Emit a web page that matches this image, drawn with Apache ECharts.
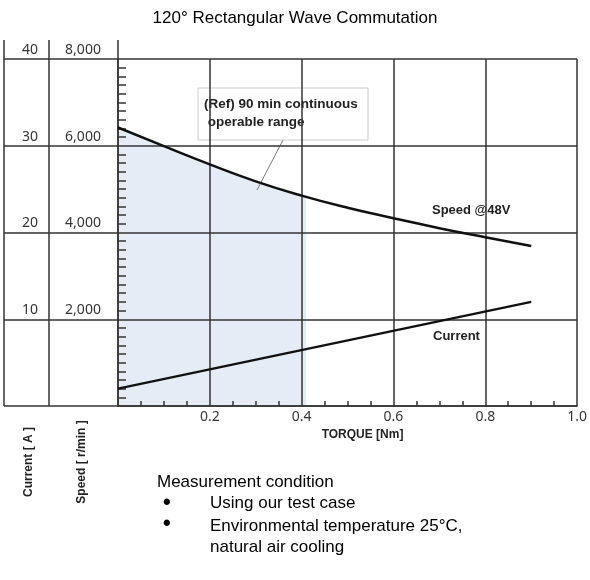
<!DOCTYPE html>
<html>
<head>
<meta charset="utf-8">
<script src="https://cdn.jsdelivr.net/npm/echarts@6/dist/echarts.min.js"></script>
<style>
  html, body { margin: 0; padding: 0; background: #fff; }
  #main { width: 590px; height: 580px; }
</style>
</head>
<body>
<div id="main"></div>
<script>
// values
const torque = [0, 0.1, 0.2, 0.3, 0.4, 0.5, 0.6, 0.7, 0.8, 0.9]
const speed = [6420, 5990, 5570, 5180, 4850, 4570, 4330, 4100, 3890, 3690]
const currentTorque = [0, 0.9]
const current = [2.0, 12.0]
const shadeTorque = [0, 0.1, 0.2, 0.3, 0.4, 0.41]
const shadeSpeed = [6420, 5990, 5570, 5180, 4850, 4820]
const xTicks = [0, 0.2, 0.4, 0.6, 0.8, 1.0]
const speedTicks = [0, 2000, 4000, 6000, 8000]
const currentTicks = [0, 10, 20, 30, 40]

const G = { left: 118, right: 7, top: 59, bottom: 174 }
const W = 590, H = 580
const ink = '#333'
const bold = "'Liberation Sans', Arial, sans-serif"
const plain = "'Liberation Sans', Arial, sans-serif"
const tickFont = "'Noto Sans', 'Open Sans', sans-serif"

const chart = echarts.init(document.getElementById('main'), null, { renderer: 'canvas' })

const pair = (xs, ys) => xs.map((x, i) => [x, ys[i]])

const option = {
  animation: false,
  title: {
    text: '120° Rectangular Wave Commutation',
    left: 'center',
    top: 5,
    textStyle: { fontFamily: plain, fontWeight: 'normal', fontSize: 17, color: '#000' }
  },
  grid: [
    { left: G.left, right: G.right, top: G.top, bottom: G.bottom },
    { left: 4, width: G.left - 4, top: G.top, bottom: G.bottom }
  ],
  xAxis: [{
    type: 'value',
    min: xTicks[0],
    max: xTicks[xTicks.length - 1],
    interval: 0.2,
    name: 'TORQUE [Nm]',
    nameLocation: 'middle',
    nameGap: 23,
    nameTextStyle: { fontFamily: bold, fontWeight: 'bold', fontSize: 12, color: '#222', padding: [0, 0, 0, 30] },
    axisLine: { lineStyle: { color: ink, width: 1.5 } },
    axisTick: { show: false, inside: true },
    minorTick: { show: true, splitNumber: 4, length: 5, lineStyle: { color: ink, width: 1.5 } },
    axisLabel: {
      fontFamily: tickFont, fontSize: 14, color: '#333', margin: 4,
      formatter: v => (v === 0 ? '' : v.toFixed(1))
    },
    splitLine: { show: true, lineStyle: { color: ink, width: 1.5 } }
  }, {
    gridIndex: 1,
    type: 'value',
    min: 0,
    max: 1,
    show: false
  }],
  yAxis: [{
    type: 'value',
    min: speedTicks[0],
    max: speedTicks[speedTicks.length - 1],
    interval: 2000,
    axisLine: { show: true, lineStyle: { color: ink, width: 1.5 } },
    axisTick: { show: false, inside: true },
    minorTick: { show: true, splitNumber: 10, length: 8, lineStyle: { color: ink, width: 1.5 } },
    axisLabel: {
      align: 'center', verticalAlign: 'bottom', margin: G.left - 83,
      padding: [0, 0, 2, 0],
      fontFamily: tickFont, fontSize: 14, color: '#333',
      formatter: v => (v === 0 ? '' : v.toLocaleString('en-US'))
    },
    splitLine: { show: true, lineStyle: { color: ink, width: 1.5 } }
  }, {
    type: 'value',
    position: 'left',
    min: currentTicks[0],
    max: currentTicks[currentTicks.length - 1],
    interval: 10,
    axisLine: { show: false },
    axisTick: { show: false },
    splitLine: { show: false },
    axisLabel: {
      align: 'center', verticalAlign: 'bottom', margin: G.left - 30,
      padding: [0, 0, 2, 0],
      fontFamily: tickFont, fontSize: 14, color: '#333',
      formatter: v => (v === 0 ? '' : String(v))
    }
  }, {
    gridIndex: 1,
    type: 'value',
    min: speedTicks[0],
    max: speedTicks[speedTicks.length - 1],
    interval: 2000,
    axisLine: { show: false },
    axisTick: { show: false },
    axisLabel: { show: false },
    splitLine: { show: true, lineStyle: { color: ink, width: 1.5 } }
  }],
  series: [{
    name: 'range',
    type: 'line',
    z: -1,
    smooth: true,
    symbol: 'none',
    data: pair(shadeTorque, shadeSpeed),
    lineStyle: { width: 0, opacity: 0 },
    areaStyle: { color: '#e6ecf6', opacity: 1 }
  }, {
    name: 'Speed @48V',
    type: 'line',
    smooth: true,
    symbol: 'none',
    data: pair(torque, speed),
    lineStyle: { color: '#111', width: 2.5 }
  }, {
    name: 'Current',
    type: 'line',
    yAxisIndex: 1,
    symbol: 'none',
    data: pair(currentTorque, current),
    lineStyle: { color: '#111', width: 2.5 }
  }],
  graphic: [
    // left table columns and top stub of the axis
    { type: 'line', shape: { x1: 4, y1: G.top - 19, x2: 4, y2: H - G.bottom }, style: { stroke: ink, lineWidth: 1.5 } },
    { type: 'line', shape: { x1: 49, y1: G.top - 19, x2: 49, y2: H - G.bottom }, style: { stroke: ink, lineWidth: 1.5 } },
    { type: 'line', shape: { x1: G.left, y1: G.top - 19, x2: G.left, y2: G.top }, style: { stroke: ink, lineWidth: 1.5 } },
    // annotation
    { type: 'line', shape: { x1: 283, y1: 140, x2: 257, y2: 190 }, style: { stroke: '#555', lineWidth: 0.8 } },
    {
      type: 'rect', shape: { x: 198, y: 88, width: 170, height: 52 },
      style: { fill: '#fff', stroke: '#ccc', lineWidth: 1 }
    },
    {
      type: 'text', left: 204, top: 95,
      style: { text: '(Ref) 90 min continuous\n operable range', font: 'bold 13.5px ' + bold, fill: '#222', lineHeight: 18 }
    },
    { type: 'text', left: 432, top: 204, style: { text: 'Speed @48V', font: 'bold 13px ' + bold, fill: '#222' } },
    { type: 'text', left: 433, top: 330, style: { text: 'Current', font: 'bold 13px ' + bold, fill: '#222' } },
    // rotated axis names
    {
      type: 'text', x: 29, y: 462, rotation: Math.PI / 2,
      style: { text: 'Current [ A ]', font: 'bold 12px ' + bold, fill: '#222', align: 'center', verticalAlign: 'middle' }
    },
    {
      type: 'text', x: 82, y: 462, rotation: Math.PI / 2,
      style: { text: 'Speed [ r/min ]', font: 'bold 12px ' + bold, fill: '#222', align: 'center', verticalAlign: 'middle' }
    },
    // measurement note
    { type: 'text', left: 157, top: 474, style: { text: 'Measurement condition', font: '17px ' + plain, fill: '#000' } },
    { type: 'text', left: 163, top: 492, style: { text: '•', font: 'bold 22px ' + plain, fill: '#000' } },
    { type: 'text', left: 210, top: 495, style: { text: 'Using our test case', font: '17px ' + plain, fill: '#000' } },
    { type: 'text', left: 163, top: 513, style: { text: '•', font: 'bold 22px ' + plain, fill: '#000' } },
    { type: 'text', left: 210, top: 516, style: { text: 'Environmental temperature 25°C,\nnatural air cooling', font: '17px ' + plain, fill: '#000', lineHeight: 21 } }
  ]
}

chart.setOption(option)
</script>
</body>
</html>
